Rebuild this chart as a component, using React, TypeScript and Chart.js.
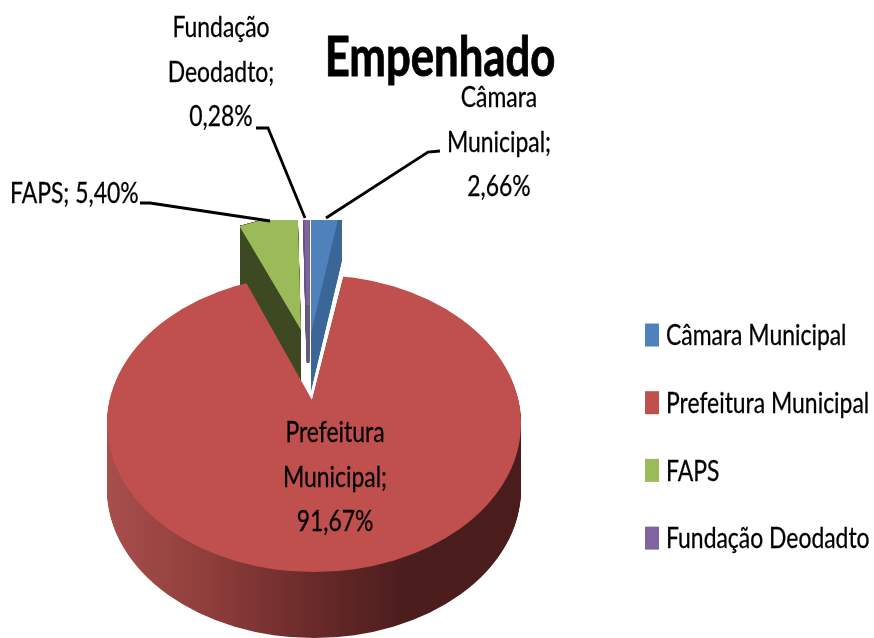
import React, { useEffect, useRef } from "react";
import { Chart, registerables } from "chart.js";

Chart.register(...registerables);

const titleText = "Empenhado";
const categories = ["Câmara Municipal", "Prefeitura Municipal", "FAPS", "Fundação Deodadto"];
const percentValues = [2.66, 91.67, 5.4, 0.28];
const topColors = ["#4f81bd", "#c0504d", "#9bbb59", "#8064a2"];
const wallColors = ["#3e6899", "", "#3f4a24", "#625a80"];

const FONT = "Lato, sans-serif";
const WIDTH = 874;
const HEIGHT = 638;
const textScaleX = 0.79;
const titleScaleX = 0.78;

// pie projection
const pieRadius = 207;
const outline = { x: 314, y: 423.5, rx: 207, ry: 148.5 };
const bigApex = { x: 312, y: 400 };
const bigScale = { x: 1.28, y: 0.85 };
const explodedApex = [
  { x: 311, y: 333 },
  null,
  { x: 301, y: 330 },
  { x: 308, y: 305 },
];
const tilts = [0.71, 0.71, 0.63, 0.71];
const wallDepth = [58, 66, 58, 58];
const explodedClip = [
  [240, 226],
  [262, 220],
  [342, 220],
  [342, 420],
  [240, 420],
];
const drawOrder = [2, 3, 0, 1];

// label layout
const lineGap = 44.5;
const labelAnchors = [
  { x: 499, y: 98, lines: 3, align: "center" },
  { x: 335, y: 433, lines: 3, align: "center" },
  { x: 10, y: 194, lines: 1, align: "left" },
  { x: 221, y: 28, lines: 3, align: "center" },
];
const leaders = [
  [[440, 151], [428, 152], [326, 218]],
  [],
  [[140, 203], [150, 203], [270, 221]],
  [[256, 128], [268, 128], [305, 218]],
];
const legendLayout = { boxX: 645, textX: 666, boxW: 14, boxH: 23, firstY: 335, stepY: 67.7 };

const fmt = (v: number) => v.toFixed(2).replace(".", ",") + "%";

function labelLines(i: number, lines: number) {
  const name = categories[i];
  if (lines === 1) return [`${name}; ${fmt(percentValues[i])}`];
  const words = name.split(" ");
  return [words[0], `${words.slice(1).join(" ")};`, fmt(percentValues[i])];
}

function squeezedText(ctx: any, text: string, x: number, y: number, sx: number, align: string, weight: number) {
  ctx.save();
  ctx.translate(x, y);
  ctx.scale(sx, 1);
  ctx.textAlign = align;
  ctx.fillText(text, 0, 0);
  ctx.lineWidth = weight;
  ctx.strokeStyle = "#000";
  ctx.strokeText(text, 0, 0);
  ctx.restore();
}

function drawArc(ctx: any, arc: any, fill: any) {
  const base = arc.options;
  arc.options = { ...base, backgroundColor: fill, borderColor: fill };
  arc.draw(ctx);
  arc.options = base;
}

const piePlugin = {
  id: "pie3d",
  beforeDatasetsDraw(chart: any) {
    const ctx = chart.ctx;
    const arcs = chart.getDatasetMeta(0).data;
    for (const i of drawOrder) {
      const arc = arcs[i];
      const apex = explodedApex[i];
      if (apex) {
        ctx.save();
        ctx.beginPath();
        explodedClip.forEach((p, k) => (k ? ctx.lineTo(p[0], p[1]) : ctx.moveTo(p[0], p[1])));
        ctx.closePath();
        ctx.clip();
        for (let d = wallDepth[i]; d >= 0; d--) {
          ctx.save();
          ctx.translate(apex.x, apex.y + d);
          ctx.scale(1, tilts[i]);
          ctx.translate(-arc.x, -arc.y);
          drawArc(ctx, arc, d === 0 ? arc.options.backgroundColor : wallColors[i]);
          ctx.restore();
        }
        ctx.restore();
      } else {
        const half = pieRadius / bigScale.x;
        const wall = ctx.createLinearGradient(arc.x - half, 0, arc.x + half, 0);
        wall.addColorStop(0, "#a84f4c");
        wall.addColorStop(0.25, "#8f3e3b");
        wall.addColorStop(0.5, "#6a2a2a");
        wall.addColorStop(0.72, "#4c1d1d");
        wall.addColorStop(1, "#4a1c1c");
        for (let d = wallDepth[i]; d >= 0; d--) {
          ctx.save();
          ctx.beginPath();
          ctx.ellipse(outline.x, outline.y + d, outline.rx, outline.ry, 0, 0, Math.PI * 2);
          ctx.clip();
          ctx.translate(bigApex.x, bigApex.y + d);
          ctx.scale(bigScale.x, bigScale.y);
          ctx.translate(-arc.x, -arc.y);
          drawArc(ctx, arc, d === 0 ? arc.options.backgroundColor : wall);
          ctx.restore();
        }
      }
    }
    return false;
  },
  afterDraw(chart: any) {
    const ctx = chart.ctx;
    ctx.save();
    ctx.fillStyle = "#000";
    ctx.textBaseline = "alphabetic";
    ctx.font = `bold 56px ${FONT}`;
    squeezedText(ctx, titleText, 440, 76, titleScaleX, "center", 0.9);
    // leaders
    ctx.strokeStyle = "#000";
    ctx.lineWidth = 2.8;
    for (const pts of leaders) {
      if (!pts.length) continue;
      ctx.beginPath();
      pts.forEach((p, k) => (k ? ctx.lineTo(p[0], p[1]) : ctx.moveTo(p[0], p[1])));
      ctx.stroke();
    }
    // data labels
    ctx.font = `29px ${FONT}`;
    ctx.textBaseline = "middle";
    categories.forEach((_, i) => {
      const a = labelAnchors[i];
      labelLines(i, a.lines).forEach((t, k) =>
        squeezedText(ctx, t, a.x, a.y + k * lineGap, textScaleX, a.align, 0.3)
      );
    });
    // legend
    categories.forEach((name, i) => {
      const y = legendLayout.firstY + i * legendLayout.stepY;
      ctx.fillStyle = topColors[i];
      ctx.fillRect(legendLayout.boxX, y - legendLayout.boxH / 2, legendLayout.boxW, legendLayout.boxH);
      ctx.fillStyle = "#000";
      squeezedText(ctx, name, legendLayout.textX, y + 1, textScaleX, "left", 0.3);
    });
    ctx.restore();
  },
};

export default function App() {
  const ref = useRef<HTMLCanvasElement>(null);
  useEffect(() => {
    document.body.style.margin = "0";
    const chart = new Chart(ref.current as HTMLCanvasElement, {
      type: "pie",
      data: {
        labels: categories,
        datasets: [
          {
            data: percentValues,
            backgroundColor: topColors,
            borderColor: topColors,
            borderWidth: [0, 0, 0, 3],
          },
        ],
      },
      options: {
        animation: false,
        responsive: false,
        radius: pieRadius,
        layout: { padding: 0 },
        plugins: { legend: { display: false }, title: { display: false }, tooltip: { enabled: false } },
      } as any,
      plugins: [piePlugin as any],
    });
    return () => chart.destroy();
  }, []);
  return (
    <div style={{ width: WIDTH, height: HEIGHT, background: "#fff" }}>
      <canvas ref={ref} width={WIDTH} height={HEIGHT} style={{ display: "block" }} />
    </div>
  );
}
